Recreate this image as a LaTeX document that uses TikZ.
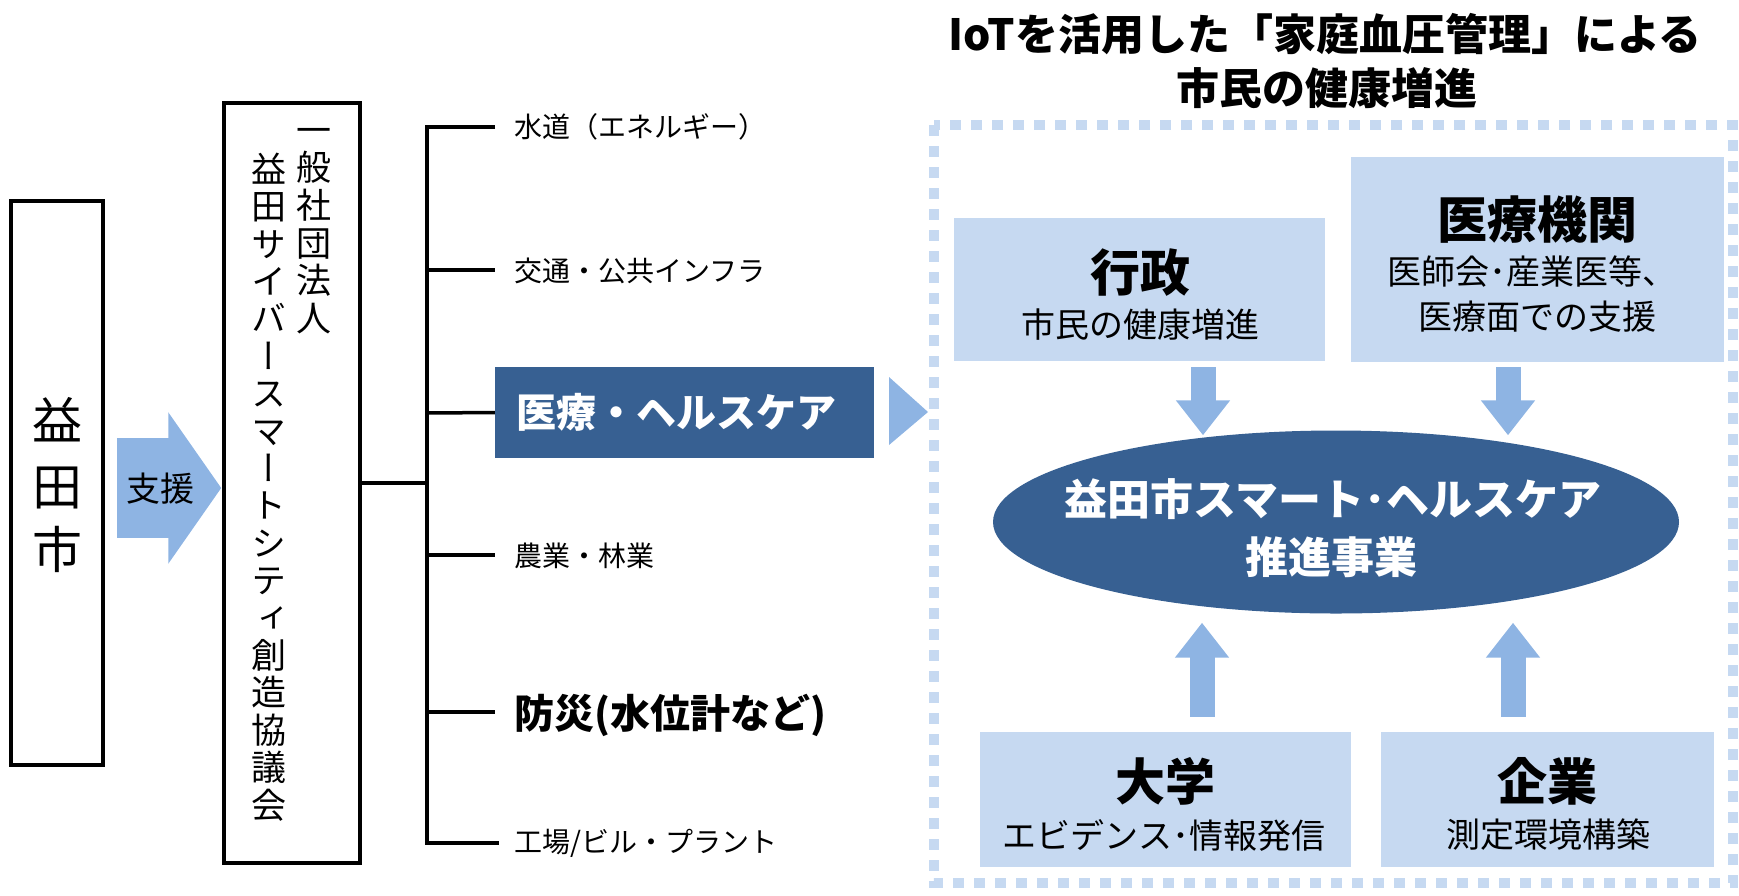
\documentclass[tikz,border=0pt]{standalone}
\usepackage{fontspec}
\setmainfont{Noto Sans CJK JP}
\newfontfamily\jpvert[RawFeature=+vert]{Noto Sans CJK JP}
\usetikzlibrary{arrows.meta,shapes.geometric}
\definecolor{dkblue}{HTML}{376092}
\definecolor{ltblue}{HTML}{C6D9F1}
\definecolor{arrblue}{HTML}{8EB4E3}
\newcommand\jsize[1]{\fontsize{#1pt}{#1pt}\selectfont}
\begin{document}
\begin{tikzpicture}[x=1pt,y=-1pt,
  t/.style={inner sep=0pt,font=\jsize{#1},anchor=base,yshift={-0.38*#1}},
  tb/.style={t=#1,font=\jsize{#1}\bfseries},
  tl/.style={t=#1,anchor=base west},
  tlb/.style={tb=#1,anchor=base west},
  vt/.style={t=35,font=\jsize{35}\jpvert},
  frame/.style={draw=black,line width=3.5pt,inner sep=0pt},
  pale/.style={fill=ltblue,inner sep=0pt},
  tree/.style={line width=3.5pt},
  barrow/.style={draw=arrblue,line width=25pt,-{Triangle[width=52pt,length=35pt]}}]
\useasboundingbox (0,0) rectangle (1739,895);

% ---------------- left part ----------------
\node[frame,minimum width=92pt,minimum height=564pt] (masuda) at (57,483) {};
\foreach \c/\yy [count=\i] in {益/420,田/486,市/549}
  \node[t=50] (m\i) at (57,\yy) {\c};

\node[frame,minimum width=136pt,minimum height=760pt] (council) at (292,483) {};
\foreach \c [count=\i] in {一,般,社,団,法,人}
  \node[vt] (va\i) at (314,{130+37.6*(\i-1)}) {\c};
\foreach \c [count=\i] in {益,田,サ,イ,バ,ー,ス,マ,ー,ト,シ,テ,ィ,創,造,協,議,会}
  \node[vt] (vb\i) at (269,{169+37.4*(\i-1)}) {\c};

\draw[draw=arrblue,line width=100pt,-{Triangle[width=149pt,length=53pt]},
      shorten <=12pt,shorten >=1pt]
  ([yshift=-5pt]masuda.east) -- ([yshift=-5pt]council.west);
\node[t=34] (shien) at (160,489) {支援};

% tree
\coordinate (j) at (427,483);
\coordinate (b1) at (427,127); \coordinate (e1) at (495,127);
\coordinate (b2) at (427,270); \coordinate (e2) at (495,270);
\coordinate (b3) at (427,413);
\coordinate (b4) at (427,555); \coordinate (e4) at (495,555);
\coordinate (b5) at (427,712); \coordinate (e5) at (495,712);
\coordinate (b6) at (427,843); \coordinate (e6) at (499,843);

\node[fill=dkblue,inner sep=0pt,minimum width=379pt,minimum height=91pt] (iryo) at (684.5,412.5) {};
\node[tlb=40,text=white] (iryoT) at (516,412) {医療・ヘルスケア};

\draw[tree] (council.east) -- (j);
\draw[tree] (e1) -- (b1) -- (b6) -- (e6);
\draw[tree] (b2) -- (e2);
\draw[tree] (b3) -- (iryo.west);
\draw[tree] (b4) -- (e4);
\draw[tree] (b5) -- (e5);

\node[tl=28] (l1) at (514,127) {水道（エネルギー）};
\node[tl=28] (l2) at (514,271) {交通・公共インフラ};
\node[tl=28] (l4) at (514,556) {農業・林業};
\node[tlb=40] (l5) at (514,713) {防災(水位計など)};
\node[tl=28] (l6) at (514,842) {工場/ビル・プラント};

\fill[arrblue] (889,377) -- (928,412) -- (889,445) -- cycle;

% ---------------- right part ----------------
\node[tb=43] (title1) at (1325,34) {IoTを活用した「家庭血圧管理」による};
\node[tb=43] (title2) at (1327,88) {市民の健康増進};

\draw[ltblue,line width=10pt,dash pattern=on 11pt off 10pt] (934,125) rectangle (1733,883);

\node[pale,minimum width=371pt,minimum height=143pt] (gyosei) at (1139.5,289.5) {};
\node[tb=50] (gyoseiT) at (1140,272) {行政};
\node[t=34] (gyoseiS) at (1140,325) {市民の健康増進};

\node[pale,minimum width=373pt,minimum height=205pt] (iryokikan) at (1537.5,259.5) {};
\node[tb=50] (ikT) at (1537,219) {医療機関};
\node[t=34] (ikS1) at (1532,272) {医師会･産業医等、};
\node[t=34] (ikS2) at (1537,317) {医療面での支援};

\node[ellipse,fill=dkblue,minimum width=686pt,minimum height=183pt,inner sep=0pt] (ell) at (1336,522) {};
\node[tb=43,text=white] (ellT1) at (1333,499) {益田市スマート･ヘルスケア};
\node[tb=43,text=white] (ellT2) at (1331,557) {推進事業};

\node[pale,minimum width=371pt,minimum height=135pt] (daigaku) at (1165.5,799.5) {};
\node[tb=50] (dgT) at (1165,781) {大学};
\node[t=34] (dgS) at (1164,836) {エビデンス･情報発信};

\node[pale,minimum width=333pt,minimum height=135pt] (kigyo) at (1547.5,799.5) {};
\node[tb=50] (kgT) at (1547,781) {企業};
\node[t=34] (kgS) at (1548,835) {測定環境構築};

\coordinate (ax1) at (1203,0);
\coordinate (ax2) at (1508,0);
\coordinate (ax3) at (1202,0);
\coordinate (ax4) at (1513,0);
\draw[barrow,shorten <=6pt,shorten >=-5pt] (gyosei.south -| ax1) -- (ell.north -| ax1);
\draw[barrow,shorten <=5pt,shorten >=-5pt] (iryokikan.south -| ax2) -- (ell.north -| ax2);
\draw[barrow,shorten <=15pt,shorten >=9pt] (daigaku.north -| ax3) -- (ell.south -| ax3);
\draw[barrow,shorten <=15pt,shorten >=9pt] (kigyo.north -| ax4) -- (ell.south -| ax4);
\end{tikzpicture}
\end{document}
